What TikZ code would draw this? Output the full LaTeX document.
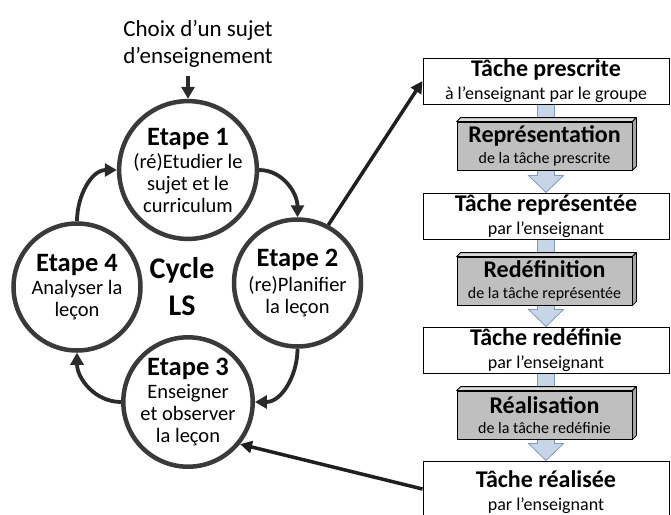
\documentclass[tikz,border=0pt]{standalone}
\usepackage{fontspec}
\setmainfont{Carlito}
\usetikzlibrary{arrows.meta,calc}
\pgfdeclarelayer{background}
\pgfsetlayers{background,main}
\definecolor{ringc}{HTML}{3A3A3A}
\definecolor{arrc}{HTML}{2B2B2B}
\definecolor{grayfront}{HTML}{BFBFBF}
\definecolor{graytop}{HTML}{D9D9D9}
\definecolor{grayside}{HTML}{A6A6A6}
\definecolor{bfill}{HTML}{C8D5E6}
\definecolor{bline}{HTML}{7F9AC0}
\newcommand{\fs}[2]{\fontsize{#1}{#2}\selectfont}
\newcommand{\stg}[1]{{\fs{26.5}{26.5}\bfseries #1}}
\newcommand{\ttl}[1]{{\fs{24}{24}\bfseries #1}}
\newcommand{\depthfaces}[1]{%
  \filldraw[fill=graytop, draw=black, line width=0.8pt, line join=round]
    (#1.north west) -- ++(4,-4) -- ($(#1.north east)+(4,-4)$) -- (#1.north east) -- cycle;
  \filldraw[fill=grayside, draw=black, line width=0.8pt, line join=round]
    (#1.north east) -- ++(4,-4) -- ($(#1.south east)+(4,-4)$) -- (#1.south east) -- cycle;}
\newcommand{\blockarrow}[2]{%
  \begin{pgfonlayer}{background}
  \filldraw[fill=bfill, draw=bline, line width=0.8pt, line join=miter]
    ($(#1.south)+(-8.5,0)$) -- ($(#2.north)+(-8.5,-17)$) -- ($(#2.north)+(-17.5,-17)$)
    -- (#2.north) -- ($(#2.north)+(17.5,-17)$) -- ($(#2.north)+(8.5,-17)$)
    -- ($(#1.south)+(8.5,0)$) -- cycle;
  \end{pgfonlayer}}
\begin{document}
\begin{tikzpicture}[x=1pt,y=-1pt,
  stage/.style={circle, draw=ringc, line width=4.5pt, minimum size=127pt, inner sep=0pt,
    align=center, font=\fs{20.5}{22}},
  cycarrow/.style={draw=arrc, line width=3.8pt, -{Triangle[length=12pt,width=13pt]}},
  link/.style={draw=black!88, line width=3.5pt, -{Triangle[length=12pt,width=12pt]}},
  taskbox/.style={draw=black, line width=1pt, fill=white, minimum width=246pt,
    minimum height=46pt, inner sep=0pt, align=center, font=\fs{18}{23}},
  procbox/.style={draw=black, line width=0.8pt, fill=grayfront, minimum width=175pt,
    minimum height=48pt, inner sep=0pt, align=center, font=\fs{16}{20.5}}]
\begin{pgfonlayer}{background}
\fill[white] (0,0) rectangle (671,514);
\end{pgfonlayer}
\useasboundingbox (0,0) rectangle (671,514);

% left cycle
\node[font=\fs{23}{27}, align=center] (top) at (198,44) {Choix d’un sujet\\d’enseignement};
\coordinate (c0) at (188,76);
\node[stage] (e1) at (188,170) {\stg{Etape 1}\\[1pt](ré)Etudier le\\sujet et le\\curriculum};
\node[stage] (e2) at (297.5,283) {\stg{Etape 2}\\[3pt](re)Planifier\\la leçon};
\node[stage] (e3) at (188,402) {\stg{Etape 3}\\[1pt]Enseigner\\et observer\\la leçon};
\node[stage] (e4) at (77,287) {\stg{Etape 4}\\[1pt]Analyser la\\leçon};
\node[font=\fs{30}{37}\bfseries, align=center] (cyc) at (182,287) {Cycle\\LS};

\draw[cycarrow] (c0) -- (e1.north);
\draw[cycarrow] (e4.north) to[out=90,in=180] (e1.west);
\draw[cycarrow] (e1.east) to[out=0,in=90] (e2.north);
\draw[cycarrow] (e2.south) to[out=-90,in=0] (e3.east);
\draw[cycarrow] (e3.west) to[out=180,in=-90] (e4.south);

% right column
\node[taskbox] (t1) at (546,81) {\ttl{Tâche prescrite}\\à l’enseignant par le groupe};
\node[taskbox] (t2) at (546,216) {\ttl{Tâche représentée}\\par l’enseignant};
\node[taskbox] (t3) at (546,350) {\ttl{Tâche redéfinie}\\par l’enseignant};
\node[taskbox, minimum height=62pt] (t4) at (546,492) {\ttl{Tâche réalisée}\\par l’enseignant};

\node[procbox] (g1) at (544.5,146) {\ttl{Représentation}\\de la tâche prescrite};
\node[procbox] (g2) at (544.5,281) {\ttl{Redéfinition}\\de la tâche représentée};
\node[procbox] (g3) at (544.5,415) {\ttl{Réalisation}\\de la tâche redéfinie};
\depthfaces{g1}
\depthfaces{g2}
\depthfaces{g3}

\blockarrow{t1}{t2}
\blockarrow{t2}{t3}
\blockarrow{t3}{t4}

\draw[link] (e2.62) -- (t1.west);
\draw[link] ($(t4.west)+(0,-3)$) -- (e3.-39);
\end{tikzpicture}
\end{document}
